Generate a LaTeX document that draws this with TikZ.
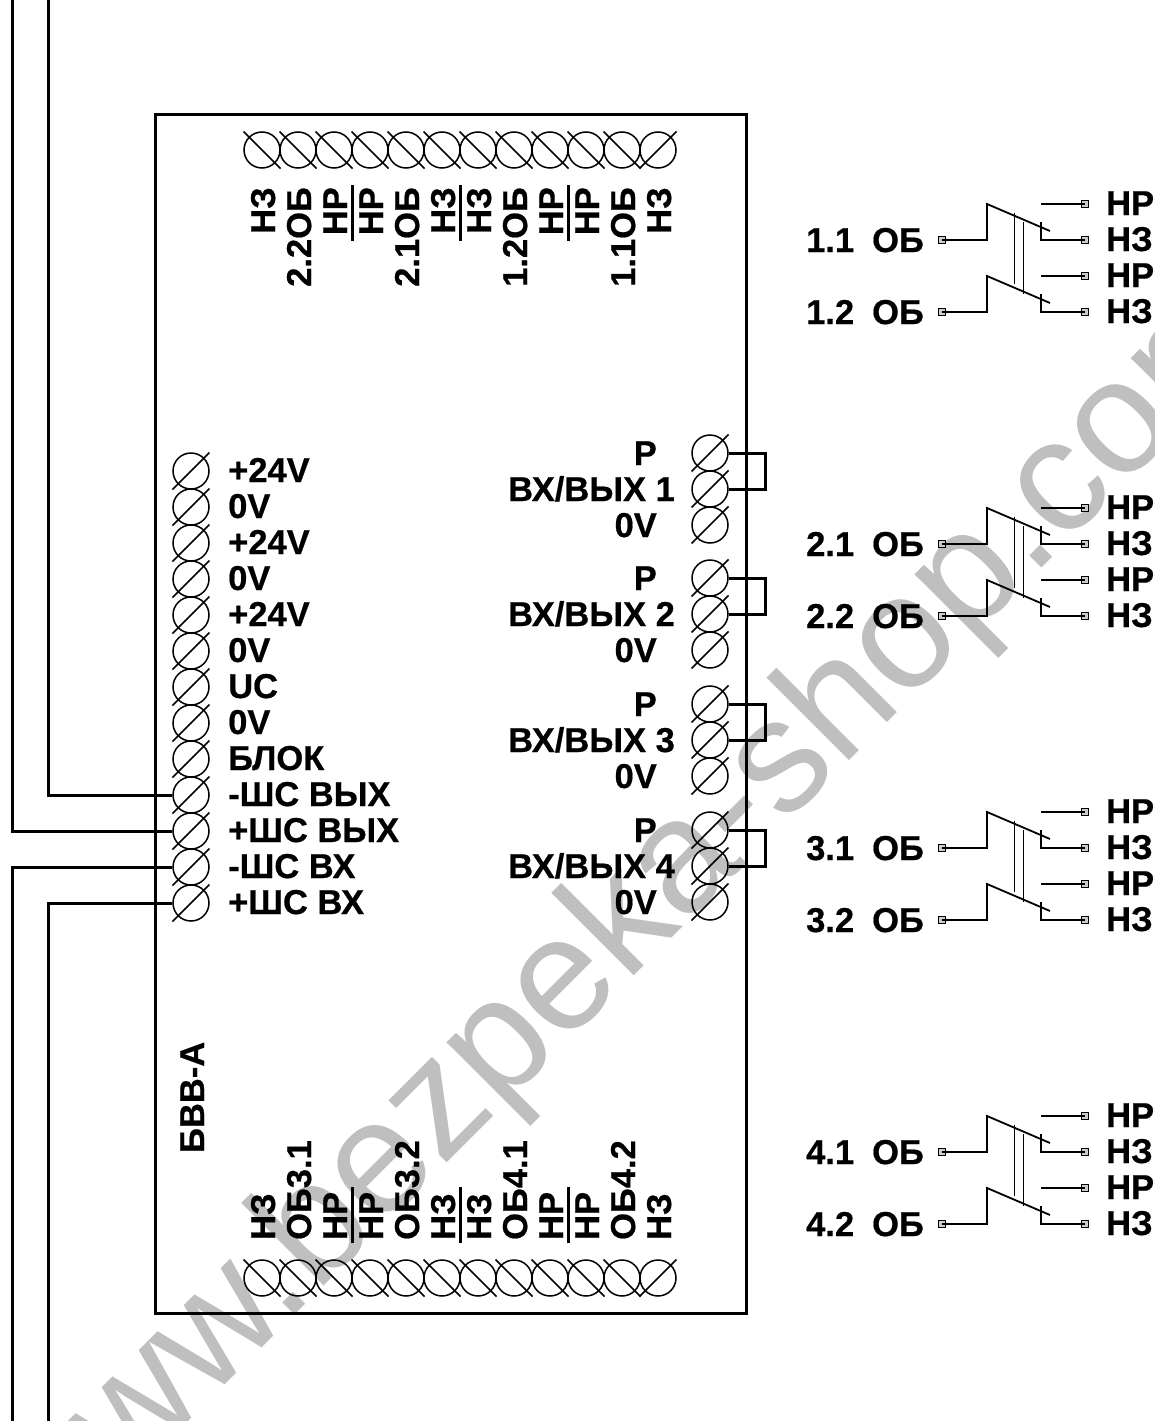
\documentclass[tikz,border=0pt]{standalone}
\usepackage{fontspec}
\setmainfont{Liberation Sans}[BoldFeatures={FakeBold=0.6}]
\usetikzlibrary{calc}

\begin{document}
\begin{tikzpicture}[
    x=1pt, y=-1pt,
    term/.style={circle, draw, line width=1.5pt, minimum size=36pt, inner sep=0pt},
    slash/.style={line width=1.5pt},
    wire/.style={line width=3pt},
    thinwire/.style={line width=1.8pt},
    link/.style={line width=0.9pt},
    lug/.style={rectangle, draw, fill=black!20, line width=1.2pt, minimum size=7pt, inner sep=0pt},
    txt/.style={font=\bfseries\fontsize{34.5}{34.5}\selectfont, inner sep=0pt},
    wmark/.style={font=\fontsize{161}{161}\selectfont, text=black!25, inner sep=0pt}
]
    \useasboundingbox (0,0) rectangle (1154,1421);
    \clip (0,0) rectangle (1154,1421);

    % Watermark
    \node[wmark, rotate=45, anchor=base west] (wm) at (44,1566) {www.bezpeka-shop.com};

    % Unit
    \node[draw, wire, minimum width=591pt, minimum height=1199pt, inner sep=0pt] (unit) at (450.5,713.5) {};
    \node[txt, rotate=90, anchor=base west] (name) at (204,1153) {БВВ-А};

    % Top and bottom rows
    \foreach \i/\tlab/\blab in {1/НЗ/НЗ,2/2.2ОБ/ОБ3.1,3/НР/НР,4/НР/НР,5/2.1ОБ/ОБ3.2,6/НЗ/НЗ,7/НЗ/НЗ,8/1.2ОБ/ОБ4.1,9/НР/НР,10/НР/НР,11/1.1ОБ/ОБ4.2,12/НЗ/НЗ} {
        \pgfmathsetmacro{\cx}{262+36*(\i-1)}
        \node[term] (t\i) at (\cx,150) {};
        \node[term] (b\i) at (\cx,1278) {};
        \node[txt, rotate=90, anchor=base east] (tl\i) at (\cx+13,187) {\tlab};
        \node[txt, rotate=90, anchor=base west] (bl\i) at (\cx+13,1240) {\blab};
    }
    \foreach \i in {1,...,11} {
        \draw[slash] ($(t\i)+(-18.5,-18.5)$) -- ($(t\i)+(18.5,18.5)$);
        \draw[slash] ($(b\i)+(-18.5,-18.5)$) -- ($(b\i)+(18.5,18.5)$);
    }
    \draw[slash] ($(t12)+(-18.5,18.5)$) -- ($(t12)+(18.5,-18.5)$);
    \draw[slash] ($(b12)+(-18.5,18.5)$) -- ($(b12)+(18.5,-18.5)$);

    % Bars between the labels
    \foreach \bx in {352,460,568} {
        \draw[wire] (\bx,185) -- (\bx,241);
        \draw[wire] (\bx,1187) -- (\bx,1243);
    }

    % Left column
    \foreach \i/\lab in {1/+24V,2/0V,3/+24V,4/0V,5/+24V,6/0V,7/UC,8/0V,9/БЛОК,10/-ШС ВЫХ,11/+ШС ВЫХ,12/-ШС ВХ,13/+ШС ВХ} {
        \pgfmathsetmacro{\cy}{471+36*(\i-1)}
        \node[term] (l\i) at (191,\cy) {};
        \draw[slash] ($(l\i)+(-18.5,18.5)$) -- ($(l\i)+(18.5,-18.5)$);
        \node[txt, anchor=base west] (ll\i) at (228,\cy+11) {\lab};
    }

    % Right column
    \foreach \g/\gy in {1/453,2/578,3/704,4/830} {
        \foreach \i in {0,1,2} {
            \node[term] (r\g\i) at (710,\gy+36*\i) {};
            \draw[slash] ($(r\g\i)+(-18.5,18.5)$) -- ($(r\g\i)+(18.5,-18.5)$);
        }
        \node[txt, anchor=base east] (rp\g) at (657,\gy+12) {Р};
        \node[txt, anchor=base west] (rio\g) at (508,\gy+48) {ВХ/ВЫХ \g};
        \node[txt, anchor=base east] (rz\g) at (657,\gy+84) {0V};
        \coordinate (j\g) at (765,\gy);
        \draw[wire] (r\g0.east) -- (j\g) -- (j\g |- r\g1) -- (r\g1.east);
    }

    % Line wires
    \coordinate (wa) at (48,0);
    \coordinate (wb) at (12,0);
    \coordinate (wc) at (12,1421);
    \coordinate (wd) at (48,1421);
    \draw[wire] (wa) |- (l10.west);
    \draw[wire] (wb) |- (l11.west);
    \draw[wire] (wc) |- (l12.west);
    \draw[wire] (wd) |- (l13.west);

    % Relays
    \foreach \g/\gy in {1/240,2/544,3/848,4/1152} {
        \foreach \s/\sy in {1/0,2/72} {
            \begin{scope}[shift={(0,\gy+\sy)}]
                \node[lug] (ob\g\s) at (942,0) {};
                \node[lug] (nc\g\s) at (1085,0) {};
                \node[lug] (no\g\s) at (1085,-36) {};
                \coordinate (pv\g\s) at (987,-36);
                \coordinate (tip\g\s) at (1050,-9);
                \coordinate (nct\g\s) at (1041,-18);
                \coordinate (nos\g\s) at (1041,-36);
                \draw[thinwire] (ob\g\s.center) -| (pv\g\s) -- (tip\g\s);
                \draw[thinwire] (nc\g\s.center) -| (nct\g\s);
                \draw[thinwire] (no\g\s.center) -- (nos\g\s);
                \node[txt, anchor=base east] (lob\g\s) at (924,12) {\g.\s\hspace{18pt}ОБ};
                \node[txt, anchor=base west] (lnc\g\s) at (1106,11) {НЗ};
                \node[txt, anchor=base west] (lno\g\s) at (1106,-25) {НР};
            \end{scope}
        }
        \begin{scope}[shift={(0,\gy)}]
            \coordinate (ka\g) at (1014,-27);
            \coordinate (kb\g) at (1014,44);
            \coordinate (kc\g) at (1023,-18);
            \coordinate (kd\g) at (1023,54);
            \draw[link] (ka\g) -- (kb\g);
            \draw[link] (kc\g) -- (kd\g);
        \end{scope}
    }
\end{tikzpicture}
\end{document}
